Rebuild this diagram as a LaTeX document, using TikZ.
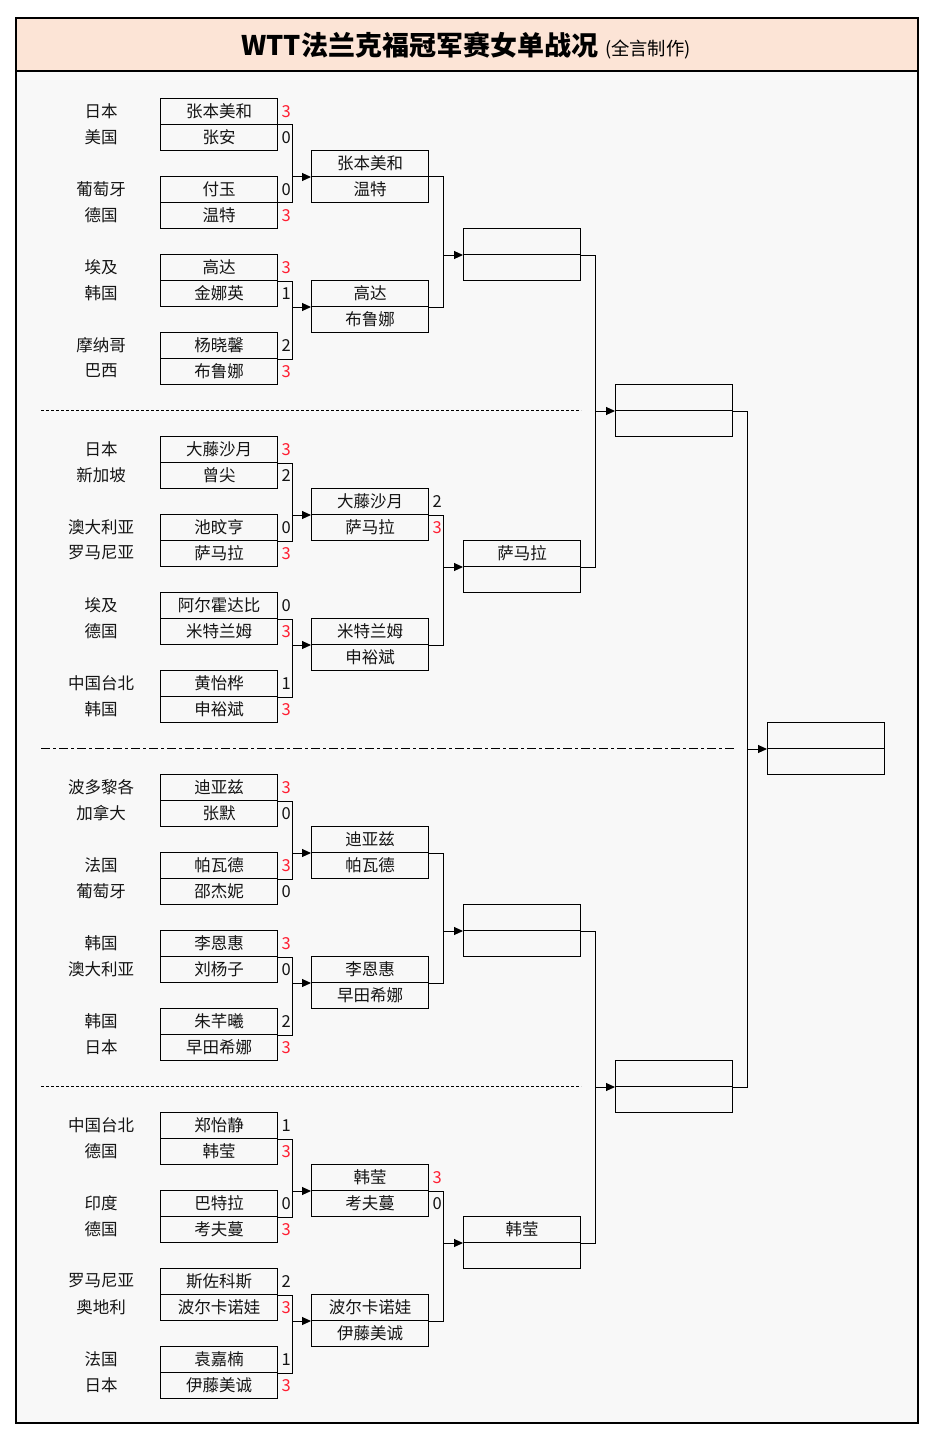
\documentclass[tikz,border=0pt]{standalone}
\usepackage{fontspec}
\setmainfont{Noto Sans CJK SC}
\usetikzlibrary{arrows.meta,calc}
\definecolor{winred}{RGB}{255,30,50}
\definecolor{hdr}{RGB}{252,228,214}
\definecolor{bodybg}{RGB}{248,248,248}
\definecolor{ink}{RGB}{20,20,20}
\begin{document}
\begin{tikzpicture}[x=1pt,y=-1pt,
  cell/.style={draw=black, line width=1pt, minimum width=117pt, minimum height=26pt, inner sep=0pt, anchor=north west, font=\fontsize{16.5}{16.5}\selectfont, text=ink},
  country/.style={font=\fontsize{16.5}{16.5}\selectfont, text=ink, inner sep=0pt},
  score/.style={font=\fontsize{16.5}{16.5}\selectfont, inner sep=0pt, anchor=west},
  link/.style={line width=1pt},
  arr/.style={line width=1pt, -{Triangle[length=9pt,width=8pt]}},
  sepdash/.style={line width=1pt, dash pattern=on 3pt off 2pt},
  sepdashdot/.style={line width=1pt, dash pattern=on 9pt off 3pt on 3pt off 3pt},
]
\useasboundingbox (0,0) rectangle (936,1442);
\fill[white] (0,0) rectangle (936,1442);
\fill[bodybg] (16,71) rectangle (918,1423);
\fill[hdr] (16,18) rectangle (918,71);
\draw[line width=2.5pt] (16,18) rectangle (918,1423);
\draw[line width=2.5pt] (16,71) -- (918,71);
\node[inner sep=0pt, text=black] (title) at (466,46) {\fontsize{27}{27}\selectfont\bfseries WTT法兰克福冠军赛女单战况\hspace{7pt}\fontsize{18.3}{18.3}\selectfont\mdseries (全言制作)};

% separators
\draw[sepdash] (41,410) -- (581,410);
\draw[sepdashdot] (41,748) -- (735,748);
\draw[sepdash] (41,1086) -- (581,1086);

% round 1
\foreach \i/\c/\n/\s in {
 1/日本/张本美和/3, 2/美国/张安/0, 3/葡萄牙/付玉/0, 4/德国/温特/3,
 5/埃及/高达/3, 6/韩国/金娜英/1, 7/摩纳哥/杨晓馨/2, 8/巴西/布鲁娜/3,
 9/日本/大藤沙月/3, 10/新加坡/曾尖/2, 11/澳大利亚/池旼亨/0, 12/罗马尼亚/萨马拉/3,
 13/埃及/阿尔霍达比/0, 14/德国/米特兰姆/3, 15/中国台北/黄怡桦/1, 16/韩国/申裕斌/3,
 17/波多黎各/迪亚兹/3, 18/加拿大/张默/0, 19/法国/帕瓦德/3, 20/葡萄牙/邵杰妮/0,
 21/韩国/李恩惠/3, 22/澳大利亚/刘杨子/0, 23/韩国/朱芊曦/2, 24/日本/早田希娜/3,
 25/中国台北/郑怡静/1, 26/德国/韩莹/3, 27/印度/巴特拉/0, 28/德国/考夫蔓/3,
 29/罗马尼亚/斯佐科斯/2, 30/奥地利/波尔卡诺娃/3, 31/法国/袁嘉楠/1, 32/日本/伊藤美诚/3} {
  \pgfmathtruncatemacro\sec{floor((\i-1)/8)}
  \pgfmathtruncatemacro\pr{floor(mod(\i-1,8)/2)}
  \pgfmathtruncatemacro\cc{mod(\i-1,2)}
  \pgfmathtruncatemacro\yt{98+338*\sec+78*\pr+26*\cc}
  \node[cell] (a\i) at (160,\yt) {\n};
  \node[country] (ca\i) at (101,\yt+13) {\c};
  \ifnum\s=3 \def\scol{winred}\else\def\scol{ink}\fi
  \node[score,text=\scol] (sa\i) at ($(a\i.east)+(3.5,0)$) {\s};
}

% round 2
\foreach \i/\n in {1/张本美和, 2/温特, 3/高达, 4/布鲁娜, 5/大藤沙月, 6/萨马拉, 7/米特兰姆, 8/申裕斌,
 9/迪亚兹, 10/帕瓦德, 11/李恩惠, 12/早田希娜, 13/韩莹, 14/考夫蔓, 15/波尔卡诺娃, 16/伊藤美诚} {
  \pgfmathtruncatemacro\sec{floor((\i-1)/4)}
  \pgfmathtruncatemacro\pr{floor(mod(\i-1,4)/2)}
  \pgfmathtruncatemacro\cc{mod(\i-1,2)}
  \pgfmathtruncatemacro\yt{150+338*\sec+130*\pr+26*\cc}
  \node[cell] (b\i) at (311,\yt) {\n};
}
\node[score,text=ink] (sb5) at ($(b5.east)+(3.5,0)$) {2};
\node[score,text=winred] (sb6) at ($(b6.east)+(3.5,0)$) {3};
\node[score,text=winred] (sb13) at ($(b13.east)+(3.5,0)$) {3};
\node[score,text=ink] (sb14) at ($(b14.east)+(3.5,0)$) {0};

% round 3
\node[cell] (c1) at (463,228) {};
\node[cell] (c2) at (463,254) {};
\node[cell] (c3) at (463,540) {萨马拉};
\node[cell] (c4) at (463,566) {};
\node[cell] (c5) at (463,904) {};
\node[cell] (c6) at (463,930) {};
\node[cell] (c7) at (463,1216) {韩莹};
\node[cell] (c8) at (463,1242) {};

% round 4
\node[cell] (d1) at (615,384) {};
\node[cell] (d2) at (615,410) {};
\node[cell] (d3) at (615,1060) {};
\node[cell] (d4) at (615,1086) {};

% final
\node[cell] (e1) at (767,722) {};
\node[cell] (e2) at (767,748) {};

% connectors round 1 -> 2
\foreach \k in {1,...,8} {
  \pgfmathtruncatemacro\ua{4*\k-3}
  \pgfmathtruncatemacro\lb{4*\k-1}
  \pgfmathtruncatemacro\tc{2*\k-1}
  \coordinate (ja\k) at ($(a\ua.south east)+(14,0)$);
  \draw[link] (a\ua.south east) -- (ja\k) |- (a\lb.south east);
  \draw[arr] (ja\k |- b\tc.south west) -- (b\tc.south west);
}
% round 2 -> 3
\foreach \k in {1,...,4} {
  \pgfmathtruncatemacro\ua{4*\k-3}
  \pgfmathtruncatemacro\lb{4*\k-1}
  \pgfmathtruncatemacro\tc{2*\k-1}
  \coordinate (jb\k) at ($(b\ua.south east)+(14,0)$);
  \draw[link] (b\ua.south east) -- (jb\k) |- (b\lb.south east);
  \draw[arr] (jb\k |- c\tc.south west) -- (c\tc.south west);
}
% round 3 -> 4
\foreach \k in {1,2} {
  \pgfmathtruncatemacro\ua{4*\k-3}
  \pgfmathtruncatemacro\lb{4*\k-1}
  \pgfmathtruncatemacro\tc{2*\k-1}
  \coordinate (jc\k) at ($(c\ua.south east)+(14,0)$);
  \draw[link] (c\ua.south east) -- (jc\k) |- (c\lb.south east);
  \draw[arr] (jc\k |- d\tc.south west) -- (d\tc.south west);
}
% round 4 -> final
\coordinate (jd1) at ($(d1.south east)+(14,0)$);
\draw[link] (d1.south east) -- (jd1) |- (d3.south east);
\draw[arr] (jd1 |- e1.south west) -- (e1.south west);
\end{tikzpicture}
\end{document}
